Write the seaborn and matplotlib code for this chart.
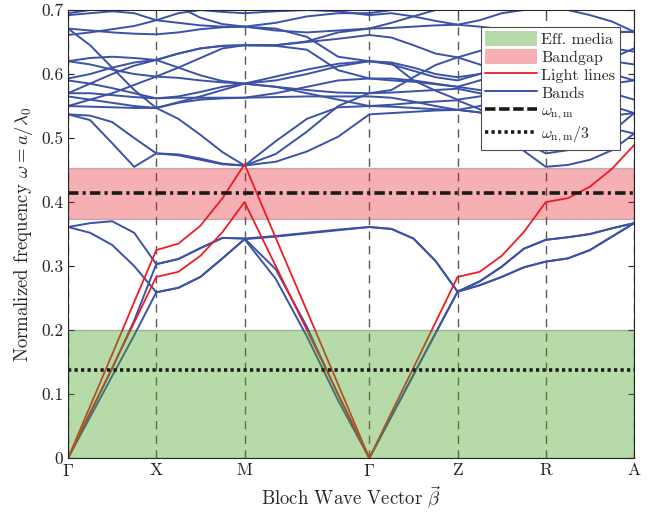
import numpy as np
import pandas as pd
import matplotlib.pyplot as plt
from matplotlib.patches import Patch
from matplotlib.lines import Line2D
import seaborn as sns

# high symmetry path, 5 samples per segment
sym_labels = [r'$\Gamma$', 'X', 'M', r'$\Gamma$', 'Z', 'R', 'A']
seg_len = [1, 1, np.sqrt(2), 1, 1, 1]

# normalized frequency of each band, read at t = 0, .25, .5, .75, 1 of every segment
L1 = [0, 0.064, 0.128, 0.192, 0.259, 0.266, 0.283, 0.312, 0.342, 0.28, 0.19, 0.09, 0,
      0.065, 0.13, 0.195, 0.26, 0.27, 0.283, 0.298, 0.307, 0.312, 0.325, 0.346, 0.367]
L2 = [0, 0.07, 0.14, 0.215, 0.303, 0.311, 0.328, 0.344, 0.343, 0.295, 0.205, 0.099, 0,
      0.065, 0.13, 0.195, 0.26, 0.276, 0.299, 0.327, 0.341, 0.345, 0.35, 0.359, 0.367]
L3 = [0.361, 0.367, 0.370, 0.352, 0.303, 0.311, 0.328, 0.344, 0.343, 0.347, 0.352, 0.357, 0.361,
      0.358, 0.343, 0.308, 0.26, 0.276, 0.299, 0.327, 0.341, 0.345, 0.35, 0.359, 0.367]
L4 = [0.361, 0.352, 0.333, 0.300, 0.259, 0.266, 0.283, 0.312, 0.342, 0.346, 0.351, 0.356, 0.361,
      0.358, 0.343, 0.308, 0.26, 0.27, 0.283, 0.298, 0.307, 0.312, 0.325, 0.346, 0.367]
U1 = [0.537, 0.528, 0.492, 0.455, 0.476, 0.4745, 0.468, 0.460, 0.457, 0.463, 0.479, 0.502, 0.537,
      0.539, 0.541, 0.543, 0.544, 0.540, 0.525, 0.494, 0.476, 0.481, 0.492, 0.510, 0.539]
U2 = [0.537, 0.535, 0.525, 0.500, 0.476, 0.473, 0.466, 0.459, 0.457, 0.495, 0.530, 0.548, 0.550,
      0.552, 0.555, 0.557, 0.559, 0.545, 0.525, 0.480, 0.455, 0.458, 0.466, 0.481, 0.507]
U3 = [0.671, 0.645, 0.610, 0.575, 0.547, 0.530, 0.505, 0.478, 0.457, 0.475, 0.510, 0.550, 0.570,
      0.575, 0.595, 0.614, 0.626, 0.636, 0.645, 0.650, 0.655, 0.660, 0.663, 0.665, 0.666]
U4 = [0.550, 0.549, 0.548, 0.547, 0.547, 0.555, 0.560, 0.562, 0.563, 0.564, 0.565, 0.565, 0.565,
      0.563, 0.557, 0.550, 0.544, 0.550, 0.560, 0.570, 0.580, 0.570, 0.560, 0.550, 0.539]
U5 = [0.565, 0.560, 0.555, 0.550, 0.547, 0.556, 0.565, 0.575, 0.585, 0.580, 0.575, 0.571, 0.570,
      0.571, 0.573, 0.575, 0.577, 0.570, 0.560, 0.550, 0.540, 0.535, 0.525, 0.515, 0.507]
U6 = [0.550, 0.560, 0.570, 0.583, 0.596, 0.610, 0.625, 0.640, 0.645, 0.644, 0.638, 0.606, 0.593,
      0.590, 0.588, 0.584, 0.580, 0.590, 0.600, 0.605, 0.610, 0.615, 0.620, 0.620, 0.615]
U7 = [0.590, 0.585, 0.578, 0.570, 0.562, 0.563, 0.563, 0.563, 0.563, 0.570, 0.580, 0.590, 0.593,
      0.593, 0.590, 0.585, 0.580, 0.575, 0.570, 0.565, 0.560, 0.565, 0.575, 0.585, 0.590]
U8 = [0.570, 0.570, 0.567, 0.564, 0.562, 0.565, 0.572, 0.580, 0.585, 0.596, 0.607, 0.616, 0.620,
      0.615, 0.605, 0.595, 0.590, 0.600, 0.615, 0.625, 0.630, 0.635, 0.640, 0.640, 0.635]
U9 = [0.570, 0.585, 0.600, 0.613, 0.622, 0.632, 0.640, 0.644, 0.645, 0.645, 0.651, 0.665, 0.671,
      0.680, 0.690, 0.700, 0.710, 0.715, 0.720, 0.720, 0.720, 0.720, 0.720, 0.720, 0.720]
U10 = [0.593, 0.600, 0.610, 0.618, 0.622, 0.610, 0.598, 0.589, 0.585, 0.590, 0.600, 0.612, 0.620,
       0.618, 0.610, 0.600, 0.595, 0.600, 0.610, 0.620, 0.625, 0.620, 0.610, 0.600, 0.590]
U11 = [0.620, 0.615, 0.607, 0.600, 0.596, 0.594, 0.590, 0.587, 0.585, 0.580, 0.570, 0.560, 0.550,
       0.549, 0.547, 0.545, 0.544, 0.540, 0.535, 0.525, 0.520, 0.525, 0.530, 0.535, 0.539]
U12 = [0.620, 0.625, 0.627, 0.625, 0.622, 0.632, 0.640, 0.644, 0.645, 0.645, 0.650, 0.655, 0.661,
       0.657, 0.645, 0.632, 0.626, 0.615, 0.600, 0.590, 0.585, 0.580, 0.575, 0.570, 0.560]
U13 = [0.661, 0.665, 0.670, 0.675, 0.684, 0.680, 0.676, 0.674, 0.674, 0.671, 0.658, 0.627, 0.620,
       0.617, 0.590, 0.574, 0.560, 0.565, 0.575, 0.585, 0.590, 0.600, 0.610, 0.625, 0.640]
U14 = [0.692, 0.695, 0.698, 0.695, 0.684, 0.695, 0.700, 0.697, 0.695, 0.698, 0.700, 0.698, 0.692,
       0.695, 0.690, 0.683, 0.677, 0.684, 0.695, 0.700, 0.705, 0.700, 0.692, 0.682, 0.666]
U15 = [0.671, 0.668, 0.665, 0.663, 0.662, 0.665, 0.670, 0.673, 0.674, 0.668, 0.665, 0.668, 0.671,
       0.672, 0.674, 0.676, 0.677, 0.674, 0.670, 0.665, 0.660, 0.663, 0.665, 0.666, 0.666]
U16 = [0.695, 0.700, 0.705, 0.710, 0.720, 0.705, 0.688, 0.678, 0.674, 0.680, 0.690, 0.695, 0.695,
       0.700, 0.710, 0.720, 0.730, 0.730, 0.730, 0.730, 0.730, 0.730, 0.730, 0.730, 0.730]

# light lines (first one only along the in-plane part)
light_1 = [0, 0.081, 0.162, 0.244, 0.325, 0.335, 0.363, 0.406, 0.459, 0.344, 0.230, 0.115, 0]
light_2 = [0, 0.071, 0.141, 0.212, 0.283, 0.291, 0.316, 0.353, 0.40, 0.30, 0.20, 0.10, 0,
           0.071, 0.141, 0.212, 0.283, 0.291, 0.316, 0.353, 0.40, 0.406, 0.424, 0.452, 0.489]

eff_media = (0, 0.2)
bandgap = (0.373, 0.453)
w_nm = 0.414
w_nm_3 = 0.138

bands = {'L1': L1, 'L2': L2, 'L3': L3, 'L4': L4, 'U1': U1, 'U2': U2, 'U3': U3, 'U4': U4,
         'U5': U5, 'U6': U6, 'U7': U7, 'U8': U8, 'U9': U9, 'U10': U10, 'U11': U11,
         'U12': U12, 'U13': U13, 'U14': U14, 'U15': U15, 'U16': U16}
lights = {'n1': light_1, 'n2': light_2}

nodes = np.concatenate([[0], np.cumsum(seg_len)])
kgrid = np.concatenate([np.linspace(nodes[i], nodes[i + 1], 5)[(1 if i else 0):]
                        for i in range(len(seg_len))])


def to_long(d):
    rows = []
    for name, vals in d.items():
        for kk, w in zip(kgrid, vals):
            rows.append((name, kk, w))
    return pd.DataFrame(rows, columns=['band', 'k', 'omega'])


df_bands = to_long(bands)
df_light = to_long(lights)

sns.set_theme(style='ticks')
plt.rcParams['font.family'] = ['cmr10']
plt.rcParams['mathtext.fontset'] = 'cm'
plt.rcParams['axes.formatter.use_mathtext'] = True
plt.rcParams['axes.unicode_minus'] = False

BLUE = '#3b52a6'
RED = '#ee1c25'
GREEN = (0.30, 0.65, 0.15)
PINK = (0.90, 0.10, 0.15)

fig, ax = plt.subplots(figsize=(6.51, 5.13), dpi=100)
fig.subplots_adjust(left=0.1045, right=0.974, top=0.9805, bottom=0.107)

for xv in nodes:
    ax.axvline(xv, color='0.35', lw=1.0, ls=(0, (6, 4.5)), zorder=1)

sns.lineplot(data=df_bands, x='k', y='omega', units='band', estimator=None, sort=False,
             color=BLUE, lw=1.4, legend=False, ax=ax, zorder=2)
sns.lineplot(data=df_light, x='k', y='omega', units='band', estimator=None, sort=False,
             color=RED, lw=1.3, legend=False, ax=ax, zorder=2.5)

ax.axhspan(*eff_media, facecolor=GREEN, alpha=0.4, edgecolor='#3d5a3d', lw=1.0, zorder=3)
ax.axhspan(*bandgap, facecolor=PINK, alpha=0.35, edgecolor='0.35', lw=1.0, zorder=3)

dashdot = (0, (2.9, 1.15, 0.86, 1.15))
dotted = (0, (0.9, 0.9))
ax.axhline(w_nm, color='k', lw=2.6, ls=dashdot, zorder=4)
ax.axhline(w_nm_3, color='k', lw=2.6, ls=dotted, zorder=4)

ax.set_xlim(nodes[0], nodes[-1])
ax.set_ylim(0, 0.7)
ax.set_xticks(nodes)
ax.set_xticklabels(sym_labels)
yt = [0, 0.1, 0.2, 0.3, 0.4, 0.5, 0.6, 0.7]
ax.set_yticks(yt)
ax.set_yticklabels(['0', '0.1', '0.2', '0.3', '0.4', '0.5', '0.6', '0.7'])
ax.tick_params(direction='in', top=True, right=True, length=4, width=0.8,
               labelsize=12.5, colors='#222222')
ax.set_xlabel(r'Bloch Wave Vector $\vec{\beta}$', fontsize=13.5)
ax.set_ylabel(r'Normalized frequency $\omega = a/\lambda_0$', fontsize=13.5)
for sp in ax.spines.values():
    sp.set_color('#262626')
    sp.set_linewidth(0.8)
    sp.set_zorder(5)

handles = [Patch(facecolor=GREEN, alpha=0.4, edgecolor='none'),
           Patch(facecolor=PINK, alpha=0.35, edgecolor='none'),
           Line2D([], [], color=RED, lw=1.3),
           Line2D([], [], color=BLUE, lw=1.4),
           Line2D([], [], color='k', lw=2.6, ls=(0, (2.9, 1.0))),
           Line2D([], [], color='k', lw=2.6, ls=dotted)]
labels = ['Eff. media', 'Bandgap', 'Light lines', 'Bands',
          r'$\omega_{\rm n,m}$', r'$\omega_{\rm n,m}/3$']
leg = ax.legend(handles, labels, loc='upper right', bbox_to_anchor=(0.9753, 0.963),
                borderaxespad=0, fontsize=11.5, handlelength=3.25, handleheight=1.0,
                handletextpad=0.25, labelspacing=0.14, borderpad=0.3,
                fancybox=False, framealpha=1, edgecolor='0.3')
leg.get_frame().set_linewidth(0.8)
leg.set_zorder(6)

fig.savefig('out.png', dpi=100)
